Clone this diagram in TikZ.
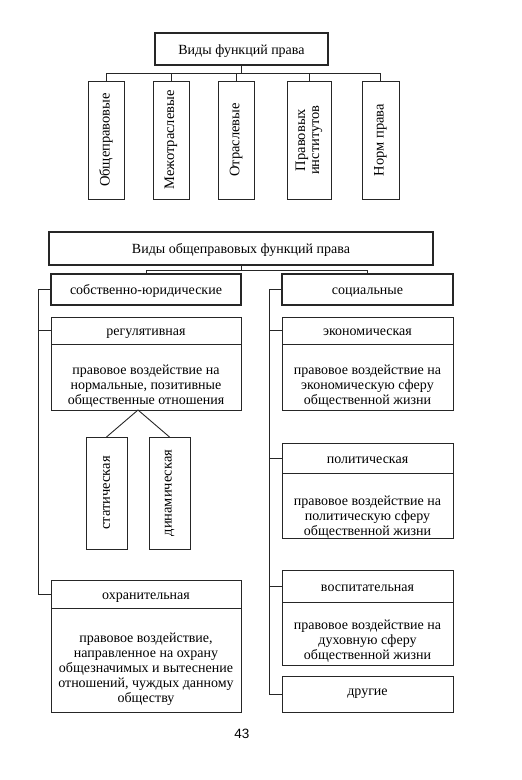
\documentclass[tikz,border=0pt]{standalone}
\usepackage{fontspec}
\setmainfont{Liberation Serif}
\newfontfamily\pagenumfont{Liberation Sans}
\usetikzlibrary{calc}
% body text: box height, box width, first baseline, lines
\def\bodytext#1#2#3#4{\parbox[c][#1][t]{#2}{\centering\rule{0pt}{#3}#4}}
\tikzset{
  boxtext/.style={font=\fontsize{14}{15}\selectfont},
  onerow/.style={text height=10pt, text depth=0pt},
  thickbox/.style={boxtext, onerow, draw=black!85, line width=2.6pt, inner sep=2pt},
  thinbox/.style={boxtext, draw=black!85, line width=0.9pt, inner sep=2pt, outer sep=0pt, align=center},
  headbox/.style={thinbox, onerow},
  bodybox/.style={thinbox, inner sep=0pt, anchor=north},
  vbox/.style={thinbox, rotate=90, font=\fontsize{14.5}{14}\selectfont},
  link/.style={draw=black!85, line width=0.9pt}
}

\begin{document}
\begin{tikzpicture}[x=1pt, y=-1pt]
		\useasboundingbox (0, 0) rectangle (522, 780);
		%%%%% TOP %%%%%
		
		\node[thickbox, minimum width=173pt, minimum height=32pt] (vidy) at (241.5, 49) {Виды функций права};
		
		\node[vbox, minimum width=118pt, minimum height=36pt] (obshch) at (106, 140) {Общеправовые};
		\node[vbox, minimum width=118pt, minimum height=36pt] (mezhotr) at (171, 140) {Межотраслевые};
		\node[vbox, minimum width=118pt, minimum height=36pt] (otrasl) at (236, 140) {Отраслевые};
		\node[vbox, minimum width=118pt, minimum height=44pt] (instit) at (309, 140) {Правовых\\институтов};
		\node[vbox, minimum width=118pt, minimum height=37pt] (norm) at (380.5, 140) {Норм права};
		
		\draw[link] (vidy.south) -- ++(0, 7) coordinate (topbus);
		\foreach \n in {obshch, mezhotr, otrasl, instit, norm}
			\draw[link] (topbus) -| (\n.east);
		
		%%%%% GENERAL %%%%%
		
		\node[thickbox, minimum width=384pt, minimum height=33pt] (obshvidy) at (241, 248.5) {Виды общеправовых функций права};
		\node[thickbox, minimum width=190pt, minimum height=31pt] (sobst) at (146, 289.5) {собственно-юридические};
		\node[thickbox, minimum width=171pt, minimum height=31pt] (social) at (367.5, 289.5) {социальные};
		
		\draw[link] (obshvidy.south) -- ++(0, 4) coordinate (midbus);
		\draw[link] (sobst.north) |- (midbus) -| (social.north);
		
		%%%%% LEFT %%%%%
		
		\node[headbox, minimum width=190pt, minimum height=27pt] (regul) at (146, 330.5) {регулятивная};
		\node[bodybox] (regultext) at (regul.south) {\bodytext{66pt}{190pt}{30pt}{правовое воздействие на\\нормальные, позитивные\\общественные отношения}};
		
		\node[vbox, minimum width=112pt, minimum height=41pt] (statich) at (106.5, 493) {статическая};
		\node[vbox, minimum width=112pt, minimum height=41pt] (dinamich) at (169.5, 493) {динамическая};
		\coordinate (fork) at (138, 410);
		\draw[link] (statich.east) -- (fork) -- (dinamich.east);
		
		\node[headbox, minimum width=190pt, minimum height=28pt] (okhran) at (146, 594) {охранительная};
		\node[bodybox] (okhrantext) at (okhran.south) {\bodytext{104pt}{190pt}{34pt}{правовое воздействие,\\направленное на охрану\\общезначимых и вытеснение\\отношений, чуждых данному\\обществу}};
		
		\coordinate (lbus) at (38, 289.5);
		\draw[link] (sobst.west) -- (lbus) |- (okhran.west);
		\draw[link] (regul.west) -- (regul.west -| lbus);
		
		%%%%% RIGHT %%%%%
		
		\node[headbox, minimum width=171pt, minimum height=27pt] (ekon) at (367.5, 330.5) {экономическая};
		\node[bodybox] (ekontext) at (ekon.south) {\bodytext{66pt}{171pt}{30pt}{правовое воздействие на\\экономическую сферу\\общественной жизни}};
		
		\node[headbox, minimum width=171pt, minimum height=30pt] (polit) at (367.5, 458) {политическая};
		\node[bodybox] (polittext) at (polit.south) {\bodytext{65pt}{171pt}{32pt}{правовое воздействие на\\политическую сферу\\общественной жизни}};
		
		\node[headbox, minimum width=171pt, minimum height=32pt] (vospit) at (367.5, 586) {воспитательная};
		\node[bodybox] (vospittext) at (vospit.south) {\bodytext{63pt}{171pt}{27pt}{правовое воздействие на\\духовную сферу\\общественной жизни}};
		
		\node[thinbox, minimum width=171pt, minimum height=36pt] (drugie) at (367.5, 694) {другие};
		
		\coordinate (rbus) at (269, 289.5);
		\draw[link] (social.west) -- (rbus) |- (drugie.west);
		\foreach \n in {ekon, polit, vospit}
			\draw[link] (\n.west) -- (\n.west -| rbus);
		
		\node[font=\pagenumfont\fontsize{13.5}{15}\selectfont] (pagenum) at (242, 734) {43};
		
		%%%%% END %%%%%
\end{tikzpicture}
\end{document}
